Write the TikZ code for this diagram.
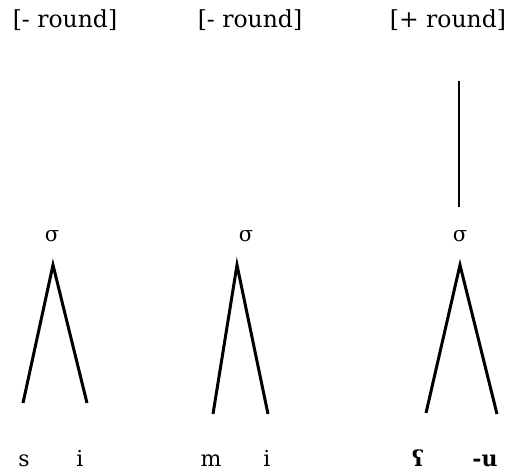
\documentclass[tikz,border=0pt]{standalone}
\usepackage{fontspec}
\setmainfont{DejaVu Serif}
\begin{document}
\begin{tikzpicture}[x=1pt, y=-1pt,
    feat/.style={inner sep=0pt, font=\fontsize{23.5}{26}\selectfont},
    syl/.style={inner sep=0pt, font=\fontsize{21}{24}\selectfont},
    seg/.style={inner sep=0pt, anchor=base, font=\fontsize{22}{26}\selectfont},
    leg/.style={line width=3pt},
    link/.style={line width=1.3pt}]
  \useasboundingbox (0,0) rectangle (509,472);

  \node[feat] (f1) at (65,20)  {[- round]};
  \node[feat] (f2) at (250,20) {[- round]};
  \node[feat] (f3) at (448,20) {[+ round]};

  \node[syl] (s1) at (52,236)  {σ};
  \node[syl] (s2) at (246,236) {σ};
  \node[syl] (s3) at (460,236) {σ};

  \node[seg] (c1) at (24,466)  {s};
  \node[seg] (v1) at (80,466)  {i};
  \node[seg] (c2) at (211,466) {m};
  \node[seg] (v2) at (267,466) {i};
  \node[seg] (c3) at (418,466) {\textbf{ʕ}};
  \node[seg] (v3) at (485,466) {\textbf{-u}};

  % apexes and feet of the syllables
  \coordinate (a1) at (53,265);
  \coordinate (l1) at (23,403);
  \coordinate (r1) at (87,403);
  \coordinate (a2) at (237,265);
  \coordinate (l2) at (213,414);
  \coordinate (r2) at (268,414);
  \coordinate (a3) at (460,265);
  \coordinate (l3) at (426,413);
  \coordinate (r3) at (497,414);
  \coordinate (t3) at (459,81);
  \coordinate (b3) at (459,207);

  \draw[leg] (l1) -- (a1) -- (r1);
  \draw[leg] (l2) -- (a2) -- (r2);
  \draw[leg] (l3) -- (a3) -- (r3);
  \draw[link] (t3) -- (b3);
\end{tikzpicture}
\end{document}
